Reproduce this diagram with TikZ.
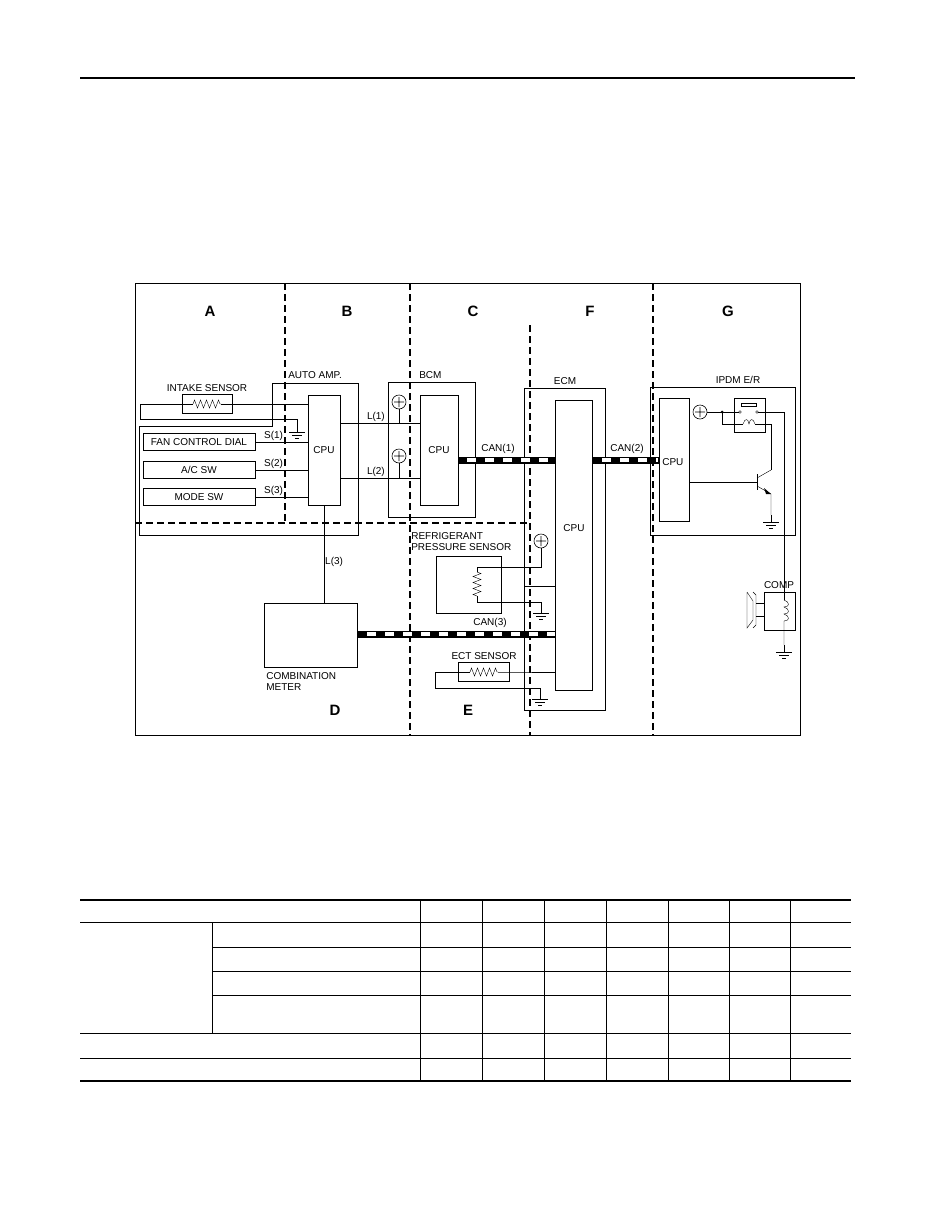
\documentclass[tikz,border=0pt]{standalone}
\usepackage{fontspec}
\setmainfont{Liberation Sans}
\usetikzlibrary{positioning,calc,decorations.pathmorphing}
\begin{document}
\begin{tikzpicture}[x=1pt,y=-1pt,
        semithick,
        % styles
        box/.style = {draw, thin, inner sep=0pt},
        lbl/.style = {font=\fontsize{10}{11}\selectfont, inner sep=1pt},
        zone/.style = {font=\bfseries\fontsize{15}{17}\selectfont},
        sep/.style = {line width=1.4pt, dash pattern=on 7pt off 4pt},
        wire/.style = {thin},
        canbus/.style = {line width=7pt, black},
        canwhite/.style = {line width=4pt, white, dash pattern=on 9pt off 9pt}
    ]
    \useasboundingbox (0,0) rectangle (935,1210);
    \newcommand{\gnd}[1]{\draw[thin] (#1) -- ++(0,7) ++(-8,0) -- ++(16,0) ++(-13,3) -- ++(10,0) ++(-7,3) -- ++(4,0);}
    \newcommand{\plus}[1]{\draw[semithick] (#1) circle (7) ($(#1)+(-5,0)$) -- ++(10,0) ($(#1)+(0,-5)$) -- ++(0,10);}

    % header rule
    \draw[line width=1.5pt] (80,78) -- (855,78);

    % frame and zones
    \draw[thick] (135,283) rectangle (800,735);
    \draw[sep] (285,283) -- (285,523);
    \draw[sep] (410,283) -- (410,735);
    \draw[sep] (530,325) -- (530,735);
    \draw[sep] (653,283) -- (653,735);
    \draw[sep] (135,523) -- (530,523);
    \foreach \z/\x/\y in {A/210/311, B/347/311, C/473/311, F/590/311, G/728/311, D/335/710, E/468/710}
        \node[zone] at (\x,\y) {\z};

    % auto amp
    \draw[box] (139,426) -- (272,426) -- (272,383) -- (358,383) -- (358,535) -- (139,535) -- cycle;
    \node[lbl, anchor=south west] at (287,380) {AUTO AMP.};
    \node[box, minimum width=32, minimum height=110] (acpu) at (324,450) {\fontsize{10}{11}\selectfont CPU};
    \node[box, minimum width=50, minimum height=19] (intake) at (207,404) {};
    \draw[wire, decorate, decoration={zigzag, segment length=6, amplitude=4}] (193,404) -- (221,404);
    \draw[wire] (182,404) -- (193,404) (221,404) -- (232,404);
    \node[lbl, above=1pt of intake] {INTAKE SENSOR};
    \draw[wire] (intake.east) -- (acpu.west |- intake.east);
    \draw[wire] (intake.west) -- (140,404) -- (140,419) -- (297,419) -- (297,425);
    \gnd{297,425}
    \foreach \n/\t/\y/\s in {fan/{FAN CONTROL DIAL}/442/S(1), ac/{A/C SW}/470/S(2), mode/{MODE SW}/497/S(3)} {
        \node[box, minimum width=112, minimum height=17, lbl] (\n) at (199,\y) {\t};
        \draw[wire] (\n.east) -- node[lbl, above, pos=0.35] {\s} (acpu.west |- \n.east);
    }

    % bcm
    \draw[box] (388,382) rectangle (475,517);
    \node[lbl, anchor=south west] at (418,380) {BCM};
    \node[box, minimum width=38, minimum height=110] (bcpu) at (439,450) {\fontsize{10}{11}\selectfont CPU};
    \draw[wire] (340,423) -- node[lbl, above, pos=0.45] {L(1)} (bcpu.west |- 0,423);
    \draw[wire] (340,478) -- node[lbl, above, pos=0.45] {L(2)} (bcpu.west |- 0,478);
    \plus{399,402} \draw[wire] (399,409) -- (399,423);
    \plus{399,456} \draw[wire] (399,463) -- (399,478);

    % ecm
    \draw[box] (524,388) rectangle (605,710);
    \node[lbl, anchor=south] at (565,386) {ECM};
    \node[box, minimum width=37, minimum height=290] (ecpu) at (574,545) {};
    \node[lbl] at (574,528) {CPU};

    % ipdm
    \draw[box] (650,387) rectangle (795,535);
    \node[lbl, anchor=south] at (738,385) {IPDM E/R};
    \node[box, minimum width=30, minimum height=123] (icpu) at (674,460) {};
    \node[lbl, anchor=west] at (661,462) {CPU};
    \plus{700,412}
    \draw[wire] (707,412) -- (739,412);
    \fill (722,412) circle (1.5);
    \draw[box] (734,398) rectangle (765,432);
    \draw[thin] (741,403) rectangle (756,406);
    \draw[thin] (740,412) circle (1.3) (757,412) circle (1.3);
    \draw[wire] (722,412) -- (722,424) -- (743,424);
    \draw[thin] (743,424) .. controls (745,418) and (748,418) .. (749,424) .. controls (750,418) and (753,418) .. (755,424);
    \draw[wire] (755,424) -- (771,424) -- (771,470);
    \draw[wire] (758,412) -- (784,412) -- (784,600);
    % transistor
    \draw[wire] (icpu.east |- 0,482) -- (757,482);
    \draw[thin] (757,474) -- (757,490);
    \draw[wire] (757,478) -- (771,470) (757,486) -- (771,494) -- (771,515);
    \fill (771,494) -- (764,488) -- (766,494) -- cycle;
    \gnd{771,515}

    % comp
    \node[lbl, anchor=south] at (779,590) {COMP};
    \draw[box] (764,592) rectangle (795,630);
    \draw[thin] (784,600) .. controls (790,602) and (790,607) .. (784,607) .. controls (790,609) and (790,614) .. (784,614) .. controls (790,616) and (790,621) .. (784,621) -- (784,645);
    \gnd{784,645}
    \draw[thin] (747,592) -- (753,601) -- (753,620) -- (747,628) -- (747,592);
    \draw[thin] (753,592) -- (756,595) -- (756,625) -- (753,628);
    \draw[thin] (756,603) -- (764,603) (756,616) -- (764,616);

    % combination meter
    \node[box, minimum width=93, minimum height=64] (meter) at (311,635) {};
    \node[lbl, align=left, anchor=north west] at (265,671) {COMBINATION\\METER};
    \draw[wire] (acpu.south) -- node[lbl, right, pos=0.58] {L(3)} (meter.north -| acpu.south);

    % refrigerant sensor
    \node[lbl, align=left, anchor=north west] at (410,531) {REFRIGERANT\\PRESSURE SENSOR};
    \draw[box] (436,556) rectangle (501,613);
    \draw[wire] (541,548) -- (541,567) -- (477,567) -- (477,572);
    \draw[wire, decorate, decoration={zigzag, segment length=6, amplitude=4}] (477,572) -- (477,596);
    \draw[wire] (477,596) -- (477,602) -- (541,602) -- (541,606);
    \plus{541,541}
    \gnd{541,606}
    \draw[wire] (524,586) -- (ecpu.west |- 0,586);

    % ect sensor
    \node[box, minimum width=51, minimum height=19] (ect) at (484,672) {};
    \node[lbl, above=1pt of ect] {ECT SENSOR};
    \draw[wire, decorate, decoration={zigzag, segment length=6, amplitude=4}] (470,672) -- (498,672);
    \draw[wire] (ect.west) -- (470,672) (498,672) -- (ect.east) -- (ecpu.west |- ect.east);
    \draw[wire] (ect.west) -- (435,672) -- (435,688) -- (540,688) -- (540,692);
    \gnd{540,692}

    % can lines
    \foreach \a/\b/\y in {458/556/460, 593/659/460, 358/556/634} {
        \draw[canbus] (\a,\y) -- (\b,\y);
        \draw[canwhite] (\a+9,\y) -- (\b-1,\y);
    }
    \node[lbl, anchor=south] at (498,455) {CAN(1)};
    \node[lbl, anchor=south] at (627,455) {CAN(2)};
    \node[lbl, anchor=south] at (490,629) {CAN(3)};

    % table
    \draw[line width=1.2pt] (80,900) -- (851,900);
    \draw[line width=1.2pt] (80,1081) -- (851,1081);
    \foreach \y in {922,1033,1058} \draw[thin] (80,\y) -- (851,\y);
    \foreach \y in {947,971,995} \draw[thin] (212,\y) -- (851,\y);
    \draw[thin] (212,922) -- (212,1033);
    \foreach \x in {420,482,544,606,668,729,790} \draw[thin] (\x,900) -- (\x,1081);
\end{tikzpicture}
\end{document}
